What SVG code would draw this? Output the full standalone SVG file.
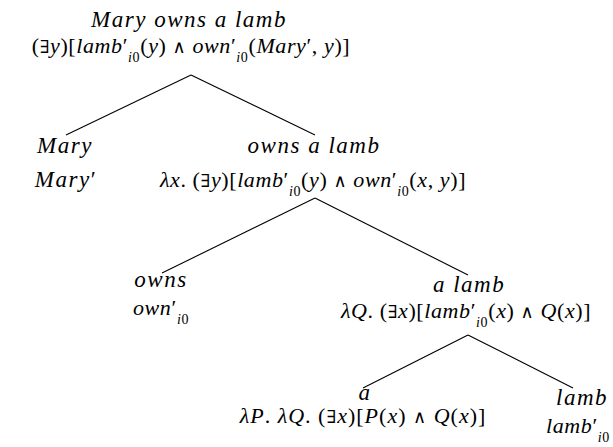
<svg xmlns="http://www.w3.org/2000/svg" width="613" height="447" viewBox="0 0 613 447">
<rect width="613" height="447" fill="#fff"/>
<g id="connectors" stroke="#000" stroke-width="1.1">
<line x1="191" y1="75" x2="66" y2="135"/>
<line x1="191" y1="75" x2="315" y2="135"/>
<line x1="315" y1="198" x2="162" y2="273"/>
<line x1="315" y1="198" x2="468" y2="275"/>
<line x1="468" y1="335" x2="363" y2="388"/>
<line x1="468" y1="335" x2="573" y2="388"/>
</g>
<g id="n-root">
<text font-family="Liberation Serif, Times New Roman, serif" font-size="23" text-anchor="middle" letter-spacing="1.5" font-style="italic" x="189" y="27">Mary owns a lamb</text>
<text font-family="Liberation Serif, Times New Roman, serif" font-size="22" text-anchor="middle" letter-spacing="0.6" x="191" y="53">(<tspan font-family="DejaVu Serif" font-size="18">∃</tspan><tspan font-style="italic">y</tspan>)[<tspan font-style="italic">lamb</tspan>′<tspan dy="9" font-size="14" font-style="italic">i</tspan><tspan font-size="14">0</tspan><tspan dy="-9">(</tspan><tspan font-style="italic">y</tspan>) <tspan font-family="DejaVu Serif" font-size="18">∧</tspan> <tspan font-style="italic">own</tspan>′<tspan dy="9" font-size="14" font-style="italic">i</tspan><tspan font-size="14">0</tspan><tspan dy="-9">(</tspan><tspan font-style="italic">Mary</tspan>′, <tspan font-style="italic">y</tspan>)]</text>
</g>
<g id="n-mary">
<text font-family="Liberation Serif, Times New Roman, serif" font-size="23" text-anchor="middle" letter-spacing="1.5" font-style="italic" x="65" y="153">Mary</text>
<text font-family="Liberation Serif, Times New Roman, serif" font-size="23" text-anchor="middle" letter-spacing="1.5" x="66" y="187"><tspan font-style="italic">Mary</tspan>′</text>
</g>
<g id="n-vp">
<text font-family="Liberation Serif, Times New Roman, serif" font-size="23" text-anchor="middle" letter-spacing="1.5" font-style="italic" x="314" y="153">owns a lamb</text>
<text font-family="Liberation Serif, Times New Roman, serif" font-size="22" text-anchor="middle" letter-spacing="0.6" x="313" y="187"><tspan font-style="italic">λx</tspan>. (<tspan font-family="DejaVu Serif" font-size="18">∃</tspan><tspan font-style="italic">y</tspan>)[<tspan font-style="italic">lamb</tspan>′<tspan dy="9" font-size="14" font-style="italic">i</tspan><tspan font-size="14">0</tspan><tspan dy="-9">(</tspan><tspan font-style="italic">y</tspan>) <tspan font-family="DejaVu Serif" font-size="18">∧</tspan> <tspan font-style="italic">own</tspan>′<tspan dy="9" font-size="14" font-style="italic">i</tspan><tspan font-size="14">0</tspan><tspan dy="-9">(</tspan><tspan font-style="italic">x</tspan>, <tspan font-style="italic">y</tspan>)]</text>
</g>
<g id="n-owns">
<text font-family="Liberation Serif, Times New Roman, serif" font-size="23" text-anchor="middle" letter-spacing="1.5" font-style="italic" x="161" y="287">owns</text>
<text font-family="Liberation Serif, Times New Roman, serif" font-size="22" text-anchor="middle" letter-spacing="0.6" x="161" y="315"><tspan font-style="italic">own</tspan>′<tspan dy="9" font-size="14" font-style="italic">i</tspan><tspan font-size="14">0</tspan></text>
</g>
<g id="n-np">
<text font-family="Liberation Serif, Times New Roman, serif" font-size="23" text-anchor="middle" letter-spacing="1.5" font-style="italic" x="469" y="292">a lamb</text>
<text font-family="Liberation Serif, Times New Roman, serif" font-size="22" text-anchor="middle" letter-spacing="0.6" x="466" y="318"><tspan font-style="italic">λQ</tspan>. (<tspan font-family="DejaVu Serif" font-size="18">∃</tspan><tspan font-style="italic">x</tspan>)[<tspan font-style="italic">lamb</tspan>′<tspan dy="9" font-size="14" font-style="italic">i</tspan><tspan font-size="14">0</tspan><tspan dy="-9">(</tspan><tspan font-style="italic">x</tspan>) <tspan font-family="DejaVu Serif" font-size="18">∧</tspan> <tspan font-style="italic">Q</tspan>(<tspan font-style="italic">x</tspan>)]</text>
</g>
<g id="n-a">
<text font-family="Liberation Serif, Times New Roman, serif" font-size="23" text-anchor="middle" letter-spacing="1.5" font-style="italic" x="365" y="400">a</text>
<text font-family="Liberation Serif, Times New Roman, serif" font-size="22" text-anchor="middle" letter-spacing="1" x="363" y="423"><tspan font-style="italic">λP</tspan>. <tspan font-style="italic">λQ</tspan>. (<tspan font-family="DejaVu Serif" font-size="18">∃</tspan><tspan font-style="italic">x</tspan>)[<tspan font-style="italic">P</tspan>(<tspan font-style="italic">x</tspan>) <tspan font-family="DejaVu Serif" font-size="18">∧</tspan> <tspan font-style="italic">Q</tspan>(<tspan font-style="italic">x</tspan>)]</text>
</g>
<g id="n-lamb">
<text font-family="Liberation Serif, Times New Roman, serif" font-size="23" text-anchor="middle" letter-spacing="1.5" font-style="italic" x="582" y="405">lamb</text>
<text font-family="Liberation Serif, Times New Roman, serif" font-size="22" text-anchor="middle" letter-spacing="0.6" x="578" y="433"><tspan font-style="italic">lamb</tspan>′<tspan dy="9" font-size="14" font-style="italic">i</tspan><tspan font-size="14">0</tspan></text>
</g>
</svg>
